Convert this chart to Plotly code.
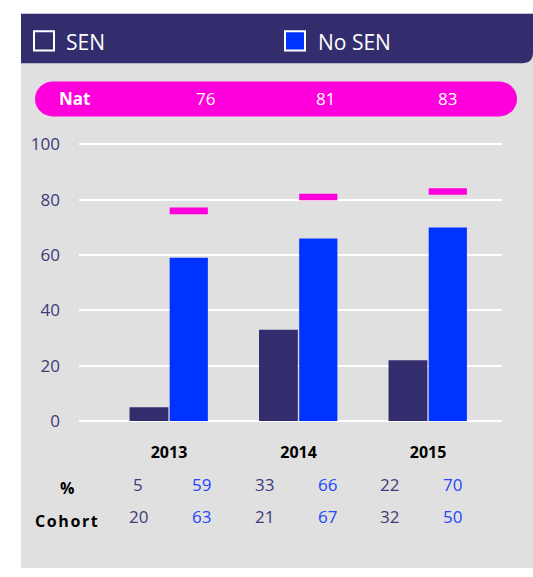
import plotly.graph_objects as go

W, H = 533, 577

years = ['2013', '2014', '2015']
sen_pct = [5, 33, 22]
nosen_pct = [59, 66, 70]
nat_pct = [76, 81, 83]
sen_cohort = [20, 21, 32]
nosen_cohort = [63, 67, 50]
y_ticks = [0, 20, 40, 60, 80, 100]

header_color = 'rgb(51,45,110)'
sen_color = 'rgb(51,45,110)'
nosen_color = 'rgb(0,51,255)'
nat_color = 'rgb(255,0,220)'
grey = 'rgb(224,224,224)'
sen_text = 'rgb(64,58,120)'
nosen_text = 'rgb(35,70,255)'
font_plot = 'Open Sans'


def px(x):
    return x / W


def py(y):
    return 1 - y / H


fig = go.Figure()
fig.add_trace(go.Bar(name='SEN', x=years, y=sen_pct, marker_color=sen_color,
                     width=0.3, offset=-0.305, marker_line_width=0))
fig.add_trace(go.Bar(name='No SEN', x=years, y=nosen_pct, marker_color=nosen_color,
                     width=0.295, offset=0.005, marker_line_width=0))
# national marker: thin bar centred on the national value
fig.add_trace(go.Bar(name='Nat', x=years, y=[2.4] * len(nat_pct), base=[v - 1.2 for v in nat_pct],
                     marker_color=nat_color, width=0.295, offset=0.005, marker_line_width=0))

shapes = []
# grey panel
shapes.append(dict(type='rect', xref='paper', yref='paper', x0=px(21), x1=px(533), y0=py(577), y1=py(4),
                   fillcolor=grey, line_width=0, layer='below'))
# header with rounded bottom-right corner
r = 11
hdr = (f'M {px(21)},{py(4)} L {px(533)},{py(4)} L {px(533)},{py(55 - r)} '
       f'Q {px(533)},{py(55)} {px(533 - r)},{py(55)} L {px(21)},{py(55)} Z')
shapes.append(dict(type='path', xref='paper', yref='paper', path=hdr, fillcolor=header_color,
                   line_width=0, layer='below'))
# magenta pill
rr = 18
pill = (f'M {px(35 + rr)},{py(74)} L {px(517 - rr)},{py(74)} '
        f'C {px(517 - rr + 10)},{py(74)} {px(517)},{py(82)} {px(517)},{py(92)} '
        f'C {px(517)},{py(102)} {px(517 - rr + 10)},{py(110)} {px(517 - rr)},{py(110)} '
        f'L {px(35 + rr)},{py(110)} '
        f'C {px(35 + rr - 10)},{py(110)} {px(35)},{py(102)} {px(35)},{py(92)} '
        f'C {px(35)},{py(82)} {px(35 + rr - 10)},{py(74)} {px(35 + rr)},{py(74)} Z')
shapes.append(dict(type='path', xref='paper', yref='paper', path=pill, fillcolor=nat_color,
                   line_width=0, layer='below'))
# legend squares
shapes.append(dict(type='rect', xref='paper', yref='paper', x0=px(34), x1=px(54), y0=py(42), y1=py(22),
                   fillcolor=header_color, line=dict(color='white', width=2)))
shapes.append(dict(type='rect', xref='paper', yref='paper', x0=px(285), x1=px(305), y0=py(42), y1=py(22),
                   fillcolor=nosen_color, line=dict(color='white', width=2)))

ann = []
ann.append(dict(text='SEN', x=px(64), y=py(33), xanchor='left', font=dict(size=21, color='white')))
ann.append(dict(text='No SEN', x=px(316), y=py(33), xanchor='left', font=dict(size=21, color='white')))
ann.append(dict(text='<b>Nat</b>', x=px(74), y=py(92), font=dict(size=17, color='white')))
for xp, v in zip([205, 325, 447], nat_pct):
    ann.append(dict(text=str(v), x=px(xp), y=py(92), font=dict(size=17, color='white')))

ann.append(dict(text='<b>%</b>', x=px(67), y=py(494), font=dict(size=16, color='black')))
ann.append(dict(text='<b>C\u200ao\u200ah\u200ao\u200ar\u200at</b>', x=px(66), y=py(528),
                font=dict(size=16, color='black')))
cols = [138, 201, 264, 327, 389, 452]
for i in range(len(years)):
    ann.append(dict(text=str(sen_pct[i]), x=px(cols[2 * i]), y=py(491), font=dict(size=17, color=sen_text)))
    ann.append(dict(text=str(nosen_pct[i]), x=px(cols[2 * i + 1]), y=py(491), font=dict(size=17, color=nosen_text)))
    ann.append(dict(text=str(sen_cohort[i]), x=px(cols[2 * i]), y=py(524), font=dict(size=17, color=sen_text)))
    ann.append(dict(text=str(nosen_cohort[i]), x=px(cols[2 * i + 1]), y=py(524), font=dict(size=17, color=nosen_text)))
for a in ann:
    a.update(xref='paper', yref='paper', showarrow=False)
    a.setdefault('xanchor', 'center')
    a.setdefault('yanchor', 'middle')

fig.update_layout(barmode='overlay', showlegend=False, shapes=shapes, annotations=ann,
                  width=W, height=H, autosize=False,
                  margin=dict(l=0, r=0, t=0, b=0),
                  paper_bgcolor='white', plot_bgcolor=grey,
                  font_family=font_plot)
fig.update_xaxes(type='category', range=[-0.695, 2.571], domain=[px(79), px(502)],
                 showgrid=False, zeroline=False, showline=False,
                 tickfont=dict(size=16, color='black', family=font_plot, weight='bold'),
                 ticks='', ticklabelstandoff=18)
fig.update_yaxes(range=[-0.6, 100.6], domain=[py(426.7), py(137.3)],
                 tickvals=y_ticks, showgrid=True, gridcolor='white', gridwidth=2,
                 zeroline=False, showline=False,
                 tickfont=dict(size=17, color='rgb(64,58,120)'), ticklabelstandoff=18)

fig.write_html('out.html', config={'displayModeBar': False},
               post_script="document.body.style.margin='0';document.body.style.overflow='hidden';")
